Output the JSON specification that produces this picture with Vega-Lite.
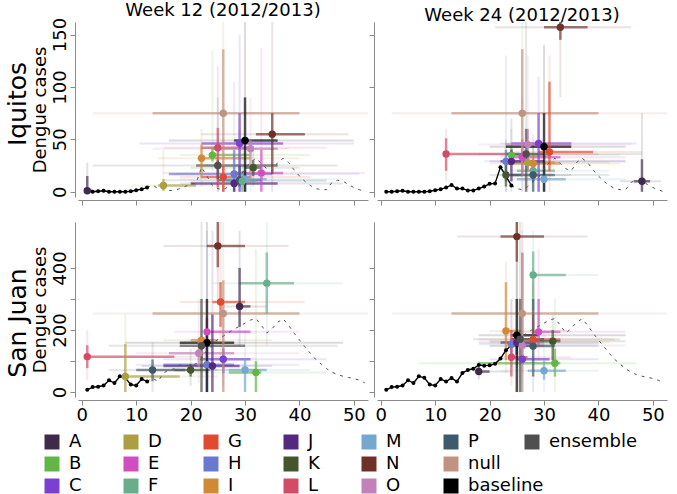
{
"$schema": "https://vega.github.io/schema/vega-lite/v6.json",
"padding": {"left": 6, "top": 2, "right": 2, "bottom": 0},
"background": "white",
"datasets": {
"ts": [
{"city":"Iquitos","week":1,"cases":0},{"city":"Iquitos","week":2,"cases":0},{"city":"Iquitos","week":3,"cases":0.5},{"city":"Iquitos","week":4,"cases":1},{"city":"Iquitos","week":5,"cases":0},{"city":"Iquitos","week":6,"cases":0},{"city":"Iquitos","week":7,"cases":0},{"city":"Iquitos","week":8,"cases":0},{"city":"Iquitos","week":9,"cases":0.5},{"city":"Iquitos","week":10,"cases":1.5},{"city":"Iquitos","week":11,"cases":2.5},{"city":"Iquitos","week":12,"cases":4},{"city":"Iquitos","week":13,"cases":6.5},{"city":"Iquitos","week":14,"cases":3},{"city":"Iquitos","week":15,"cases":3},{"city":"Iquitos","week":16,"cases":1.3},{"city":"Iquitos","week":17,"cases":1.3},{"city":"Iquitos","week":18,"cases":3},{"city":"Iquitos","week":19,"cases":5},{"city":"Iquitos","week":20,"cases":7.6},{"city":"Iquitos","week":21,"cases":8},{"city":"Iquitos","week":22,"cases":23.5},{"city":"Iquitos","week":23,"cases":15},{"city":"Iquitos","week":24,"cases":6},{"city":"Iquitos","week":25,"cases":3},{"city":"Iquitos","week":26,"cases":2},{"city":"Iquitos","week":27,"cases":5},{"city":"Iquitos","week":28,"cases":10},{"city":"Iquitos","week":29,"cases":14},{"city":"Iquitos","week":30,"cases":22},{"city":"Iquitos","week":31,"cases":28},{"city":"Iquitos","week":32,"cases":32},{"city":"Iquitos","week":33,"cases":27},{"city":"Iquitos","week":34,"cases":22},{"city":"Iquitos","week":35,"cases":20},{"city":"Iquitos","week":36,"cases":28},{"city":"Iquitos","week":37,"cases":32},{"city":"Iquitos","week":38,"cases":28},{"city":"Iquitos","week":39,"cases":21},{"city":"Iquitos","week":40,"cases":15},{"city":"Iquitos","week":41,"cases":10},{"city":"Iquitos","week":42,"cases":6},{"city":"Iquitos","week":43,"cases":3},{"city":"Iquitos","week":44,"cases":2},{"city":"Iquitos","week":45,"cases":2},{"city":"Iquitos","week":46,"cases":9},{"city":"Iquitos","week":47,"cases":11},{"city":"Iquitos","week":48,"cases":10},{"city":"Iquitos","week":49,"cases":7},{"city":"Iquitos","week":50,"cases":4},{"city":"Iquitos","week":51,"cases":2},{"city":"Iquitos","week":52,"cases":0},
{"city":"San Juan","week":1,"cases":7},{"city":"San Juan","week":2,"cases":16},{"city":"San Juan","week":3,"cases":17},{"city":"San Juan","week":4,"cases":21},{"city":"San Juan","week":5,"cases":38},{"city":"San Juan","week":6,"cases":29},{"city":"San Juan","week":7,"cases":51},{"city":"San Juan","week":8,"cases":46},{"city":"San Juan","week":9,"cases":24},{"city":"San Juan","week":10,"cases":21},{"city":"San Juan","week":11,"cases":42},{"city":"San Juan","week":12,"cases":34},{"city":"San Juan","week":13,"cases":45},{"city":"San Juan","week":14,"cases":34},{"city":"San Juan","week":15,"cases":61},{"city":"San Juan","week":16,"cases":71},{"city":"San Juan","week":17,"cases":75},{"city":"San Juan","week":18,"cases":87},{"city":"San Juan","week":19,"cases":85},{"city":"San Juan","week":20,"cases":86},{"city":"San Juan","week":21,"cases":91},{"city":"San Juan","week":22,"cases":108},{"city":"San Juan","week":23,"cases":135},{"city":"San Juan","week":24,"cases":150},{"city":"San Juan","week":25,"cases":170},{"city":"San Juan","week":26,"cases":180},{"city":"San Juan","week":27,"cases":192},{"city":"San Juan","week":28,"cases":203},{"city":"San Juan","week":29,"cases":212},{"city":"San Juan","week":30,"cases":222},{"city":"San Juan","week":31,"cases":232},{"city":"San Juan","week":32,"cases":237},{"city":"San Juan","week":33,"cases":215},{"city":"San Juan","week":34,"cases":190},{"city":"San Juan","week":35,"cases":205},{"city":"San Juan","week":36,"cases":225},{"city":"San Juan","week":37,"cases":236},{"city":"San Juan","week":38,"cases":215},{"city":"San Juan","week":39,"cases":190},{"city":"San Juan","week":40,"cases":168},{"city":"San Juan","week":41,"cases":146},{"city":"San Juan","week":42,"cases":125},{"city":"San Juan","week":43,"cases":105},{"city":"San Juan","week":44,"cases":90},{"city":"San Juan","week":45,"cases":75},{"city":"San Juan","week":46,"cases":64},{"city":"San Juan","week":47,"cases":56},{"city":"San Juan","week":48,"cases":51},{"city":"San Juan","week":49,"cases":47},{"city":"San Juan","week":50,"cases":44},{"city":"San Juan","week":51,"cases":38},{"city":"San Juan","week":52,"cases":30}
],
"fc": [
{"city":"Iquitos","fw":12,"model":"A","pw":1,"pv":1,"w1":1,"w2":2,"v1":0,"v2":15,"ow1":1,"ow2":5,"ov1":0,"ov2":28},
{"city":"Iquitos","fw":12,"model":"D","pw":15,"pv":6,"w1":14,"w2":21,"v1":1,"v2":12,"ow1":9,"ow2":30,"ov1":0,"ov2":40},
{"city":"Iquitos","fw":12,"model":"I","pw":22,"pv":32,"w1":22,"w2":31,"v1":13,"v2":45,"ow1":14,"ow2":40,"ov1":5,"ov2":60},
{"city":"Iquitos","fw":12,"model":"B","pw":24,"pv":35,"w1":24,"w2":31,"v1":29,"v2":42,"ow1":18,"ow2":42,"ov1":20,"ov2":135},
{"city":"Iquitos","fw":12,"model":"L","pw":25,"pv":42,"w1":22,"w2":31,"v1":4,"v2":61,"ow1":15,"ow2":45,"ov1":0,"ov2":120},
{"city":"Iquitos","fw":12,"model":"null","pw":26,"pv":75,"w1":13,"w2":40,"v1":0,"v2":136,"ow1":2,"ow2":52.6,"ov1":0,"ov2":170},
{"city":"Iquitos","fw":12,"model":"G","pw":26,"pv":14,"w1":22,"w2":31,"v1":0,"v2":25,"ow1":18,"ow2":42,"ov1":0,"ov2":50},
{"city":"Iquitos","fw":12,"model":"ensemble","pw":25,"pv":25,"w1":21,"w2":36,"v1":12,"v2":30,"ow1":2,"ow2":47,"ov1":0,"ov2":90},
{"city":"Iquitos","fw":12,"model":"H","pw":28,"pv":17,"w1":16,"w2":35,"v1":0,"v2":40,"ow1":17,"ow2":51,"ov1":0,"ov2":105},
{"city":"Iquitos","fw":12,"model":"J","pw":28,"pv":8,"w1":20,"w2":36,"v1":0,"v2":12,"ow1":18,"ow2":48,"ov1":0,"ov2":35},
{"city":"Iquitos","fw":12,"model":"C","pw":29,"pv":46,"w1":22,"w2":37,"v1":0,"v2":75,"ow1":10.6,"ow2":50,"ov1":0,"ov2":150},
{"city":"Iquitos","fw":12,"model":"P","pw":29,"pv":11,"w1":25,"w2":33,"v1":5,"v2":25,"ow1":15,"ow2":45,"ov1":0,"ov2":60},
{"city":"Iquitos","fw":12,"model":"M","pw":30,"pv":12,"w1":26,"w2":34,"v1":0,"v2":20,"ow1":18,"ow2":48,"ov1":0,"ov2":50},
{"city":"Iquitos","fw":12,"model":"F","pw":29.5,"pv":10,"w1":27,"w2":32,"v1":0,"v2":20,"ow1":20,"ow2":45,"ov1":0,"ov2":45},
{"city":"Iquitos","fw":12,"model":"baseline","pw":30,"pv":49,"w1":28,"w2":36,"v1":0,"v2":90,"ow1":16,"ow2":50,"ov1":0,"ov2":170},
{"city":"Iquitos","fw":12,"model":"O","pw":31,"pv":41,"w1":24,"w2":36,"v1":10,"v2":50,"ow1":13,"ow2":38,"ov1":0,"ov2":90},
{"city":"Iquitos","fw":12,"model":"K","pw":31.5,"pv":23,"w1":30,"w2":33,"v1":15,"v2":30,"ow1":20,"ow2":40,"ov1":5,"ov2":40},
{"city":"Iquitos","fw":12,"model":"E","pw":33,"pv":18,"w1":28,"w2":37,"v1":0,"v2":40,"ow1":15,"ow2":52,"ov1":0,"ov2":137},
{"city":"Iquitos","fw":12,"model":"N","pw":35,"pv":55,"w1":32,"w2":41,"v1":17,"v2":75,"ow1":22,"ow2":49,"ov1":0,"ov2":170},
{"city":"Iquitos","fw":24,"model":"A","pw":48,"pv":10,"w1":46.5,"w2":49.5,"v1":0,"v2":31,"ow1":44,"ow2":51.5,"ov1":0,"ov2":75},
{"city":"Iquitos","fw":24,"model":"B","pw":24,"pv":35,"w1":24,"w2":31,"v1":29,"v2":42,"ow1":22,"ow2":44,"ov1":20,"ov2":60},
{"city":"Iquitos","fw":24,"model":"C","pw":29,"pv":46,"w1":24,"w2":35,"v1":0,"v2":75,"ow1":22,"ow2":47,"ov1":0,"ov2":110},
{"city":"Iquitos","fw":24,"model":"D","pw":27,"pv":28,"w1":24,"w2":32,"v1":20,"v2":35,"ow1":22,"ow2":42,"ov1":10,"ov2":60},
{"city":"Iquitos","fw":24,"model":"E","pw":26,"pv":33,"w1":24,"w2":33,"v1":15,"v2":50,"ow1":22,"ow2":45,"ov1":0,"ov2":90},
{"city":"Iquitos","fw":24,"model":"F","pw":28,"pv":20,"w1":25,"w2":32,"v1":10,"v2":30,"ow1":22,"ow2":42,"ov1":0,"ov2":50},
{"city":"Iquitos","fw":24,"model":"G","pw":31,"pv":38,"w1":29,"w2":39,"v1":20,"v2":105,"ow1":24,"ow2":48,"ov1":0,"ov2":130},
{"city":"Iquitos","fw":24,"model":"H","pw":23,"pv":29,"w1":23,"w2":28,"v1":10,"v2":40,"ow1":19,"ow2":45,"ov1":0,"ov2":130},
{"city":"Iquitos","fw":24,"model":"I","pw":28,"pv":27,"w1":23,"w2":33,"v1":20,"v2":35,"ow1":20,"ow2":44,"ov1":10,"ov2":55},
{"city":"Iquitos","fw":24,"model":"J","pw":24,"pv":29,"w1":22,"w2":30,"v1":10,"v2":40,"ow1":20,"ow2":45,"ov1":0,"ov2":70},
{"city":"Iquitos","fw":24,"model":"K","pw":23,"pv":16,"w1":23,"w2":26,"v1":5,"v2":30,"ow1":20,"ow2":35,"ov1":0,"ov2":50},
{"city":"Iquitos","fw":24,"model":"L","pw":12,"pv":36,"w1":12,"w2":24,"v1":20,"v2":51,"ow1":12,"ow2":40,"ov1":10,"ov2":60},
{"city":"Iquitos","fw":24,"model":"M","pw":30,"pv":12,"w1":25,"w2":34,"v1":0,"v2":25,"ow1":22,"ow2":45,"ov1":0,"ov2":45},
{"city":"Iquitos","fw":24,"model":"N","pw":33,"pv":157,"w1":30,"w2":38,"v1":145,"v2":165,"ow1":21,"ow2":46,"ov1":90,"ov2":170},
{"city":"Iquitos","fw":24,"model":"O","pw":27,"pv":45,"w1":23,"w2":35,"v1":20,"v2":60,"ow1":18,"ow2":46,"ov1":0,"ov2":130},
{"city":"Iquitos","fw":24,"model":"P","pw":28,"pv":16,"w1":24,"w2":32,"v1":0,"v2":30,"ow1":22,"ow2":42,"ov1":0,"ov2":45},
{"city":"Iquitos","fw":24,"model":"null","pw":26,"pv":75,"w1":13,"w2":40,"v1":20,"v2":136,"ow1":2,"ow2":52.6,"ov1":0,"ov2":170},
{"city":"Iquitos","fw":24,"model":"baseline","pw":30,"pv":43,"w1":23,"w2":35,"v1":0,"v2":75,"ow1":20,"ow2":45,"ov1":0,"ov2":140},
{"city":"Iquitos","fw":24,"model":"ensemble","pw":26.7,"pv":36,"w1":23,"w2":30,"v1":0,"v2":60,"ow1":18,"ow2":48,"ov1":0,"ov2":170},
{"city":"San Juan","fw":12,"model":"A","pw":29,"pv":276,"w1":29,"w2":31,"v1":210,"v2":400,"ow1":26,"ow2":34,"ov1":150,"ov2":520},
{"city":"San Juan","fw":12,"model":"B","pw":32,"pv":63,"w1":27,"w2":33,"v1":0,"v2":100,"ow1":20,"ow2":45,"ov1":0,"ov2":460},
{"city":"San Juan","fw":12,"model":"C","pw":26,"pv":106,"w1":22,"w2":31,"v1":60,"v2":140,"ow1":15,"ow2":45,"ov1":20,"ov2":300},
{"city":"San Juan","fw":12,"model":"D","pw":8,"pv":50,"w1":8,"w2":18,"v1":0,"v2":155,"ow1":6,"ow2":25,"ov1":0,"ov2":250},
{"city":"San Juan","fw":12,"model":"E","pw":23,"pv":194,"w1":23,"w2":31,"v1":140,"v2":240,"ow1":17,"ow2":40,"ov1":60,"ov2":300},
{"city":"San Juan","fw":12,"model":"F","pw":34,"pv":351,"w1":29,"w2":39,"v1":253,"v2":450,"ow1":24,"ow2":48,"ov1":150,"ov2":550},
{"city":"San Juan","fw":12,"model":"G","pw":25.5,"pv":290,"w1":24,"w2":30,"v1":210,"v2":354,"ow1":18,"ow2":41,"ov1":100,"ov2":550},
{"city":"San Juan","fw":12,"model":"H","pw":23,"pv":88,"w1":15,"w2":28,"v1":0,"v2":200,"ow1":10,"ow2":40,"ov1":0,"ov2":520},
{"city":"San Juan","fw":12,"model":"I","pw":22,"pv":167,"w1":20,"w2":25,"v1":100,"v2":180,"ow1":15,"ow2":35,"ov1":60,"ov2":300},
{"city":"San Juan","fw":12,"model":"J","pw":24,"pv":84,"w1":15,"w2":29,"v1":0,"v2":250,"ow1":11,"ow2":35,"ov1":0,"ov2":520},
{"city":"San Juan","fw":12,"model":"K","pw":20,"pv":71,"w1":17,"w2":23.5,"v1":50,"v2":90,"ow1":12,"ow2":33,"ov1":20,"ov2":140},
{"city":"San Juan","fw":12,"model":"L","pw":1,"pv":114,"w1":1,"w2":17,"v1":77,"v2":151,"ow1":1,"ow2":26,"ov1":39,"ov2":200},
{"city":"San Juan","fw":12,"model":"M","pw":30,"pv":71,"w1":27,"w2":34,"v1":0,"v2":110,"ow1":20,"ow2":42,"ov1":0,"ov2":200},
{"city":"San Juan","fw":12,"model":"N","pw":25,"pv":471,"w1":23,"w2":30,"v1":402,"v2":550,"ow1":15,"ow2":38,"ov1":300,"ov2":550},
{"city":"San Juan","fw":12,"model":"O","pw":21.5,"pv":125,"w1":16,"w2":28,"v1":80,"v2":170,"ow1":10,"ow2":40,"ov1":30,"ov2":300},
{"city":"San Juan","fw":12,"model":"P","pw":13,"pv":71,"w1":10,"w2":19,"v1":35,"v2":105,"ow1":5,"ow2":25,"ov1":0,"ov2":160},
{"city":"San Juan","fw":12,"model":"null","pw":26,"pv":253,"w1":13,"w2":40,"v1":0,"v2":360,"ow1":2,"ow2":52.6,"ov1":0,"ov2":550},
{"city":"San Juan","fw":12,"model":"baseline","pw":23,"pv":159,"w1":18,"w2":28,"v1":0,"v2":300,"ow1":8,"ow2":48,"ov1":0,"ov2":550},
{"city":"San Juan","fw":12,"model":"ensemble","pw":22,"pv":149,"w1":18,"w2":30,"v1":0,"v2":300,"ow1":5,"ow2":47,"ov1":0,"ov2":550},
{"city":"San Juan","fw":24,"model":"A","pw":18,"pv":66,"w1":18,"w2":20,"v1":55,"v2":80,"ow1":17,"ow2":24,"ov1":40,"ov2":100},
{"city":"San Juan","fw":24,"model":"B","pw":32,"pv":93,"w1":18,"w2":33,"v1":50,"v2":140,"ow1":7,"ow2":47,"ov1":0,"ov2":300},
{"city":"San Juan","fw":24,"model":"C","pw":26,"pv":106,"w1":25,"w2":31,"v1":90,"v2":120,"ow1":20,"ow2":40,"ov1":60,"ov2":200},
{"city":"San Juan","fw":24,"model":"D","pw":25,"pv":160,"w1":24,"w2":30,"v1":140,"v2":200,"ow1":20,"ow2":42,"ov1":100,"ov2":300},
{"city":"San Juan","fw":24,"model":"E","pw":29,"pv":194,"w1":28,"w2":33,"v1":150,"v2":300,"ow1":22,"ow2":45,"ov1":100,"ov2":460},
{"city":"San Juan","fw":24,"model":"F","pw":28,"pv":377,"w1":28,"w2":34,"v1":263,"v2":453,"ow1":28,"ow2":40,"ov1":200,"ov2":520},
{"city":"San Juan","fw":24,"model":"G","pw":28,"pv":169,"w1":24,"w2":33,"v1":150,"v2":250,"ow1":18,"ow2":43,"ov1":100,"ov2":350},
{"city":"San Juan","fw":24,"model":"H","pw":24,"pv":154,"w1":24,"w2":28,"v1":120,"v2":170,"ow1":18,"ow2":40,"ov1":80,"ov2":300},
{"city":"San Juan","fw":24,"model":"I","pw":23,"pv":197,"w1":23,"w2":26,"v1":103,"v2":354,"ow1":20,"ow2":35,"ov1":60,"ov2":420},
{"city":"San Juan","fw":24,"model":"J","pw":25,"pv":160,"w1":22,"w2":28,"v1":120,"v2":180,"ow1":18,"ow2":40,"ov1":80,"ov2":300},
{"city":"San Juan","fw":24,"model":"K","pw":31.6,"pv":164,"w1":28,"w2":33,"v1":103,"v2":200,"ow1":20,"ow2":45,"ov1":80,"ov2":250},
{"city":"San Juan","fw":24,"model":"L","pw":24,"pv":112,"w1":24,"w2":27,"v1":50,"v2":200,"ow1":22,"ow2":35,"ov1":20,"ov2":300},
{"city":"San Juan","fw":24,"model":"M","pw":30,"pv":69,"w1":27,"w2":34,"v1":40,"v2":100,"ow1":22,"ow2":40,"ov1":0,"ov2":200},
{"city":"San Juan","fw":24,"model":"N","pw":25,"pv":501,"w1":22,"w2":30,"v1":420,"v2":550,"ow1":14,"ow2":38,"ov1":300,"ov2":550},
{"city":"San Juan","fw":24,"model":"O","pw":26,"pv":150,"w1":24,"w2":30,"v1":100,"v2":448,"ow1":20,"ow2":45,"ov1":50,"ov2":520},
{"city":"San Juan","fw":24,"model":"P","pw":28,"pv":148,"w1":24,"w2":32,"v1":50,"v2":300,"ow1":20,"ow2":40,"ov1":0,"ov2":400},
{"city":"San Juan","fw":24,"model":"null","pw":26,"pv":253,"w1":13,"w2":40,"v1":0,"v2":450,"ow1":2,"ow2":52.6,"ov1":0,"ov2":550},
{"city":"San Juan","fw":24,"model":"baseline","pw":25,"pv":183,"w1":24,"w2":29,"v1":0,"v2":300,"ow1":18,"ow2":45,"ov1":0,"ov2":550},
{"city":"San Juan","fw":24,"model":"ensemble","pw":25.6,"pv":170,"w1":24,"w2":30,"v1":0,"v2":300,"ow1":17,"ow2":44,"ov1":0,"ov2":550}
]
},
"vconcat": [
{
"title": {"text": "Iquitos", "orient": "left", "anchor": "middle", "fontSize": 25, "offset": 0},
"spacing": 0,
"hconcat": [
{
"title": {"text": "Week 12 (2012/2013)", "offset": -3},
"width": 290, "height": 175,
"layer": [
{"data": {"name": "fc"}, "transform": [{"filter": "datum.city == 'Iquitos' && datum.fw == 12"}],
 "mark": {"type": "rule", "strokeWidth": 2, "opacity": 0.14, "clip": true},
 "encoding": {"x": {"field": "ow1", "type": "quantitative", "scale": {"domain": [-0.7, 52.6], "nice": false, "zero": false}, "axis": {"values": [0,10,20,30,40,50], "labels": false, "title": null}}, "x2": {"field": "ow2"},
  "y": {"field": "pv", "type": "quantitative", "scale": {"domain": [-5, 162], "nice": false, "zero": false}, "axis": {"values": [0,50,100,150], "title": "Dengue cases"}},
  "stroke": {"field": "model", "type": "nominal", "scale": {"domain": ["A","B","C","D","E","F","G","H","I","J","K","L","M","N","O","P","null","baseline","ensemble"], "range": ["#3f2a4a","#62b646","#7a40d0","#aaa043","#d04ec0","#68ae8c","#de4b31","#6b78d0","#d08936","#54287f","#455530","#d24c68","#76a7cf","#6e3128","#c082b9","#3f5a6a","#c09482","#000000","#4f4f4f"]}, "legend": null}}},
{"data": {"name": "fc"}, "transform": [{"filter": "datum.city == 'Iquitos' && datum.fw == 12"}],
 "mark": {"type": "rule", "strokeWidth": 2, "opacity": 0.14, "clip": true},
 "encoding": {"x": {"field": "pw", "type": "quantitative", "scale": {"domain": [-0.7, 52.6], "nice": false, "zero": false}, "axis": {"values": [0,10,20,30,40,50], "labels": false, "title": null}},
  "y": {"field": "ov1", "type": "quantitative", "scale": {"domain": [-5, 162], "nice": false, "zero": false}, "axis": {"values": [0,50,100,150], "title": "Dengue cases"}}, "y2": {"field": "ov2"},
  "stroke": {"field": "model", "type": "nominal", "legend": null}}},
{"data": {"name": "fc"}, "transform": [{"filter": "datum.city == 'Iquitos' && datum.fw == 12"}],
 "mark": {"type": "rule", "strokeWidth": 2.5, "opacity": 0.65, "clip": true},
 "encoding": {"x": {"field": "w1", "type": "quantitative", "scale": {"domain": [-0.7, 52.6], "nice": false, "zero": false}, "axis": {"values": [0,10,20,30,40,50], "labels": false, "title": null}}, "x2": {"field": "w2"},
  "y": {"field": "pv", "type": "quantitative", "scale": {"domain": [-5, 162], "nice": false, "zero": false}, "axis": {"values": [0,50,100,150], "title": "Dengue cases"}},
  "stroke": {"field": "model", "type": "nominal", "legend": null}}},
{"data": {"name": "fc"}, "transform": [{"filter": "datum.city == 'Iquitos' && datum.fw == 12"}],
 "mark": {"type": "rule", "strokeWidth": 2.5, "opacity": 0.65, "clip": true},
 "encoding": {"x": {"field": "pw", "type": "quantitative", "scale": {"domain": [-0.7, 52.6], "nice": false, "zero": false}, "axis": {"values": [0,10,20,30,40,50], "labels": false, "title": null}},
  "y": {"field": "v1", "type": "quantitative", "scale": {"domain": [-5, 162], "nice": false, "zero": false}, "axis": {"values": [0,50,100,150], "title": "Dengue cases"}}, "y2": {"field": "v2"},
  "stroke": {"field": "model", "type": "nominal", "legend": null}}},
{"data": {"name": "ts"}, "transform": [{"filter": "datum.city == 'Iquitos' && datum.week >= 12"}],
 "mark": {"type": "line", "color": "#555555", "strokeWidth": 1, "strokeDash": [3, 5], "clip": true},
 "encoding": {"x": {"field": "week", "type": "quantitative", "scale": {"domain": [-0.7, 52.6], "nice": false, "zero": false}, "axis": {"values": [0,10,20,30,40,50], "labels": false, "title": null}},
  "y": {"field": "cases", "type": "quantitative", "scale": {"domain": [-5, 162], "nice": false, "zero": false}, "axis": {"values": [0,50,100,150], "title": "Dengue cases"}}}},
{"data": {"name": "ts"}, "transform": [{"filter": "datum.city == 'Iquitos' && datum.week <= 12"}],
 "mark": {"type": "line", "color": "black", "strokeWidth": 1.4, "point": {"filled": true, "size": 16, "color": "black"}, "clip": true},
 "encoding": {"x": {"field": "week", "type": "quantitative", "scale": {"domain": [-0.7, 52.6], "nice": false, "zero": false}, "axis": {"values": [0,10,20,30,40,50], "labels": false, "title": null}},
  "y": {"field": "cases", "type": "quantitative", "scale": {"domain": [-5, 162], "nice": false, "zero": false}, "axis": {"values": [0,50,100,150], "title": "Dengue cases"}}}},
{"data": {"name": "fc"}, "transform": [{"filter": "datum.city == 'Iquitos' && datum.fw == 12 && datum.model != 'ensemble'"}],
 "mark": {"type": "point", "filled": true, "size": 55, "opacity": 1, "clip": true},
 "encoding": {"x": {"field": "pw", "type": "quantitative", "scale": {"domain": [-0.7, 52.6], "nice": false, "zero": false}, "axis": {"values": [0,10,20,30,40,50], "labels": false, "title": null}},
  "y": {"field": "pv", "type": "quantitative", "scale": {"domain": [-5, 162], "nice": false, "zero": false}, "axis": {"values": [0,50,100,150], "title": "Dengue cases"}},
  "color": {"field": "model", "type": "nominal", "scale": {"domain": ["A","B","C","D","E","F","G","H","I","J","K","L","M","N","O","P","null","baseline"], "range": ["#3f2a4a","#62b646","#7a40d0","#aaa043","#d04ec0","#68ae8c","#de4b31","#6b78d0","#d08936","#54287f","#455530","#d24c68","#76a7cf","#6e3128","#c082b9","#3f5a6a","#c09482","#000000"]},
   "legend": {"orient": "none", "legendX": -35, "legendY": 411, "direction": "vertical", "columns": 6, "title": null, "symbolType": "square", "symbolSize": 225, "symbolStrokeWidth": 0, "symbolOpacity": 1, "labelFontSize": 18, "labelOffset": 8, "columnPadding": 40, "rowPadding": 4, "gridAlign": "each"}}}},
{"data": {"name": "fc"}, "transform": [{"filter": "datum.city == 'Iquitos' && datum.fw == 12 && datum.model == 'ensemble'"}],
 "mark": {"type": "point", "filled": true, "size": 55, "opacity": 1, "clip": true},
 "encoding": {"x": {"field": "pw", "type": "quantitative", "scale": {"domain": [-0.7, 52.6], "nice": false, "zero": false}, "axis": {"values": [0,10,20,30,40,50], "labels": false, "title": null}},
  "y": {"field": "pv", "type": "quantitative", "scale": {"domain": [-5, 162], "nice": false, "zero": false}, "axis": {"values": [0,50,100,150], "title": "Dengue cases"}},
  "fill": {"field": "model", "type": "nominal", "scale": {"domain": ["ensemble"], "range": ["#4f4f4f"]},
   "legend": {"orient": "none", "legendX": 445, "legendY": 411, "title": null, "symbolType": "square", "symbolSize": 225, "symbolStrokeWidth": 0, "symbolOpacity": 1, "labelFontSize": 18, "labelOffset": 8}}}}
]
},
{
"title": {"text": "Week 24 (2012/2013)", "offset": -3},
"width": 290, "height": 175,
"layer": [
{"data": {"name": "fc"}, "transform": [{"filter": "datum.city == 'Iquitos' && datum.fw == 24"}],
 "mark": {"type": "rule", "strokeWidth": 2, "opacity": 0.14, "clip": true},
 "encoding": {"x": {"field": "ow1", "type": "quantitative", "scale": {"domain": [-0.7, 52.6], "nice": false, "zero": false}, "axis": {"values": [0,10,20,30,40,50], "labels": false, "title": null}}, "x2": {"field": "ow2"},
  "y": {"field": "pv", "type": "quantitative", "scale": {"domain": [-5, 162], "nice": false, "zero": false}, "axis": {"values": [0,50,100,150], "labels": false, "title": null}},
  "stroke": {"field": "model", "type": "nominal", "legend": null}}},
{"data": {"name": "fc"}, "transform": [{"filter": "datum.city == 'Iquitos' && datum.fw == 24"}],
 "mark": {"type": "rule", "strokeWidth": 2, "opacity": 0.14, "clip": true},
 "encoding": {"x": {"field": "pw", "type": "quantitative", "scale": {"domain": [-0.7, 52.6], "nice": false, "zero": false}, "axis": {"values": [0,10,20,30,40,50], "labels": false, "title": null}},
  "y": {"field": "ov1", "type": "quantitative", "scale": {"domain": [-5, 162], "nice": false, "zero": false}, "axis": {"values": [0,50,100,150], "labels": false, "title": null}}, "y2": {"field": "ov2"},
  "stroke": {"field": "model", "type": "nominal", "legend": null}}},
{"data": {"name": "fc"}, "transform": [{"filter": "datum.city == 'Iquitos' && datum.fw == 24"}],
 "mark": {"type": "rule", "strokeWidth": 2.5, "opacity": 0.65, "clip": true},
 "encoding": {"x": {"field": "w1", "type": "quantitative", "scale": {"domain": [-0.7, 52.6], "nice": false, "zero": false}, "axis": {"values": [0,10,20,30,40,50], "labels": false, "title": null}}, "x2": {"field": "w2"},
  "y": {"field": "pv", "type": "quantitative", "scale": {"domain": [-5, 162], "nice": false, "zero": false}, "axis": {"values": [0,50,100,150], "labels": false, "title": null}},
  "stroke": {"field": "model", "type": "nominal", "legend": null}}},
{"data": {"name": "fc"}, "transform": [{"filter": "datum.city == 'Iquitos' && datum.fw == 24"}],
 "mark": {"type": "rule", "strokeWidth": 2.5, "opacity": 0.65, "clip": true},
 "encoding": {"x": {"field": "pw", "type": "quantitative", "scale": {"domain": [-0.7, 52.6], "nice": false, "zero": false}, "axis": {"values": [0,10,20,30,40,50], "labels": false, "title": null}},
  "y": {"field": "v1", "type": "quantitative", "scale": {"domain": [-5, 162], "nice": false, "zero": false}, "axis": {"values": [0,50,100,150], "labels": false, "title": null}}, "y2": {"field": "v2"},
  "stroke": {"field": "model", "type": "nominal", "legend": null}}},
{"data": {"name": "ts"}, "transform": [{"filter": "datum.city == 'Iquitos' && datum.week >= 24"}],
 "mark": {"type": "line", "color": "#555555", "strokeWidth": 1, "strokeDash": [3, 5], "clip": true},
 "encoding": {"x": {"field": "week", "type": "quantitative", "scale": {"domain": [-0.7, 52.6], "nice": false, "zero": false}, "axis": {"values": [0,10,20,30,40,50], "labels": false, "title": null}},
  "y": {"field": "cases", "type": "quantitative", "scale": {"domain": [-5, 162], "nice": false, "zero": false}, "axis": {"values": [0,50,100,150], "labels": false, "title": null}}}},
{"data": {"name": "ts"}, "transform": [{"filter": "datum.city == 'Iquitos' && datum.week <= 24"}],
 "mark": {"type": "line", "color": "black", "strokeWidth": 1.4, "point": {"filled": true, "size": 16, "color": "black"}, "clip": true},
 "encoding": {"x": {"field": "week", "type": "quantitative", "scale": {"domain": [-0.7, 52.6], "nice": false, "zero": false}, "axis": {"values": [0,10,20,30,40,50], "labels": false, "title": null}},
  "y": {"field": "cases", "type": "quantitative", "scale": {"domain": [-5, 162], "nice": false, "zero": false}, "axis": {"values": [0,50,100,150], "labels": false, "title": null}}}},
{"data": {"name": "fc"}, "transform": [{"filter": "datum.city == 'Iquitos' && datum.fw == 24 && datum.model != 'ensemble'"}],
 "mark": {"type": "point", "filled": true, "size": 55, "opacity": 1, "clip": true},
 "encoding": {"x": {"field": "pw", "type": "quantitative", "scale": {"domain": [-0.7, 52.6], "nice": false, "zero": false}, "axis": {"values": [0,10,20,30,40,50], "labels": false, "title": null}},
  "y": {"field": "pv", "type": "quantitative", "scale": {"domain": [-5, 162], "nice": false, "zero": false}, "axis": {"values": [0,50,100,150], "labels": false, "title": null}},
  "color": {"field": "model", "type": "nominal"}}},
{"data": {"name": "fc"}, "transform": [{"filter": "datum.city == 'Iquitos' && datum.fw == 24 && datum.model == 'ensemble'"}],
 "mark": {"type": "point", "filled": true, "size": 55, "opacity": 1, "clip": true},
 "encoding": {"x": {"field": "pw", "type": "quantitative", "scale": {"domain": [-0.7, 52.6], "nice": false, "zero": false}, "axis": {"values": [0,10,20,30,40,50], "labels": false, "title": null}},
  "y": {"field": "pv", "type": "quantitative", "scale": {"domain": [-5, 162], "nice": false, "zero": false}, "axis": {"values": [0,50,100,150], "labels": false, "title": null}},
  "fill": {"field": "model", "type": "nominal"}}}
]
}
]
},
{
"title": {"text": "San Juan", "orient": "left", "anchor": "middle", "fontSize": 25, "offset": 0},
"spacing": 0,
"hconcat": [
{
"width": 290, "height": 175,
"layer": [
{"data": {"name": "fc"}, "transform": [{"filter": "datum.city == 'San Juan' && datum.fw == 12"}],
 "mark": {"type": "rule", "strokeWidth": 2, "opacity": 0.14, "clip": true},
 "encoding": {"x": {"field": "ow1", "type": "quantitative", "scale": {"domain": [-0.7, 52.6], "nice": false, "zero": false}, "axis": {"values": [0,10,20,30,40,50], "title": null}}, "x2": {"field": "ow2"},
  "y": {"field": "pv", "type": "quantitative", "scale": {"domain": [-16, 548], "nice": false, "zero": false}, "axis": {"values": [0,100,200,300,400], "labelExpr": "datum.value % 200 == 0 ? datum.label : ''", "title": "Dengue cases"}},
  "stroke": {"field": "model", "type": "nominal", "legend": null}}},
{"data": {"name": "fc"}, "transform": [{"filter": "datum.city == 'San Juan' && datum.fw == 12"}],
 "mark": {"type": "rule", "strokeWidth": 2, "opacity": 0.14, "clip": true},
 "encoding": {"x": {"field": "pw", "type": "quantitative", "scale": {"domain": [-0.7, 52.6], "nice": false, "zero": false}, "axis": {"values": [0,10,20,30,40,50], "title": null}},
  "y": {"field": "ov1", "type": "quantitative", "scale": {"domain": [-16, 548], "nice": false, "zero": false}, "axis": {"values": [0,100,200,300,400], "labelExpr": "datum.value % 200 == 0 ? datum.label : ''", "title": "Dengue cases"}}, "y2": {"field": "ov2"},
  "stroke": {"field": "model", "type": "nominal", "legend": null}}},
{"data": {"name": "fc"}, "transform": [{"filter": "datum.city == 'San Juan' && datum.fw == 12"}],
 "mark": {"type": "rule", "strokeWidth": 2.5, "opacity": 0.65, "clip": true},
 "encoding": {"x": {"field": "w1", "type": "quantitative", "scale": {"domain": [-0.7, 52.6], "nice": false, "zero": false}, "axis": {"values": [0,10,20,30,40,50], "title": null}}, "x2": {"field": "w2"},
  "y": {"field": "pv", "type": "quantitative", "scale": {"domain": [-16, 548], "nice": false, "zero": false}, "axis": {"values": [0,100,200,300,400], "labelExpr": "datum.value % 200 == 0 ? datum.label : ''", "title": "Dengue cases"}},
  "stroke": {"field": "model", "type": "nominal", "legend": null}}},
{"data": {"name": "fc"}, "transform": [{"filter": "datum.city == 'San Juan' && datum.fw == 12"}],
 "mark": {"type": "rule", "strokeWidth": 2.5, "opacity": 0.65, "clip": true},
 "encoding": {"x": {"field": "pw", "type": "quantitative", "scale": {"domain": [-0.7, 52.6], "nice": false, "zero": false}, "axis": {"values": [0,10,20,30,40,50], "title": null}},
  "y": {"field": "v1", "type": "quantitative", "scale": {"domain": [-16, 548], "nice": false, "zero": false}, "axis": {"values": [0,100,200,300,400], "labelExpr": "datum.value % 200 == 0 ? datum.label : ''", "title": "Dengue cases"}}, "y2": {"field": "v2"},
  "stroke": {"field": "model", "type": "nominal", "legend": null}}},
{"data": {"name": "ts"}, "transform": [{"filter": "datum.city == 'San Juan' && datum.week >= 12"}],
 "mark": {"type": "line", "color": "#555555", "strokeWidth": 1, "strokeDash": [3, 5], "clip": true},
 "encoding": {"x": {"field": "week", "type": "quantitative", "scale": {"domain": [-0.7, 52.6], "nice": false, "zero": false}, "axis": {"values": [0,10,20,30,40,50], "title": null}},
  "y": {"field": "cases", "type": "quantitative", "scale": {"domain": [-16, 548], "nice": false, "zero": false}, "axis": {"values": [0,100,200,300,400], "labelExpr": "datum.value % 200 == 0 ? datum.label : ''", "title": "Dengue cases"}}}},
{"data": {"name": "ts"}, "transform": [{"filter": "datum.city == 'San Juan' && datum.week <= 12"}],
 "mark": {"type": "line", "color": "black", "strokeWidth": 1.4, "point": {"filled": true, "size": 16, "color": "black"}, "clip": true},
 "encoding": {"x": {"field": "week", "type": "quantitative", "scale": {"domain": [-0.7, 52.6], "nice": false, "zero": false}, "axis": {"values": [0,10,20,30,40,50], "title": null}},
  "y": {"field": "cases", "type": "quantitative", "scale": {"domain": [-16, 548], "nice": false, "zero": false}, "axis": {"values": [0,100,200,300,400], "labelExpr": "datum.value % 200 == 0 ? datum.label : ''", "title": "Dengue cases"}}}},
{"data": {"name": "fc"}, "transform": [{"filter": "datum.city == 'San Juan' && datum.fw == 12 && datum.model != 'ensemble'"}],
 "mark": {"type": "point", "filled": true, "size": 55, "opacity": 1, "clip": true},
 "encoding": {"x": {"field": "pw", "type": "quantitative", "scale": {"domain": [-0.7, 52.6], "nice": false, "zero": false}, "axis": {"values": [0,10,20,30,40,50], "title": null}},
  "y": {"field": "pv", "type": "quantitative", "scale": {"domain": [-16, 548], "nice": false, "zero": false}, "axis": {"values": [0,100,200,300,400], "labelExpr": "datum.value % 200 == 0 ? datum.label : ''", "title": "Dengue cases"}},
  "color": {"field": "model", "type": "nominal"}}},
{"data": {"name": "fc"}, "transform": [{"filter": "datum.city == 'San Juan' && datum.fw == 12 && datum.model == 'ensemble'"}],
 "mark": {"type": "point", "filled": true, "size": 55, "opacity": 1, "clip": true},
 "encoding": {"x": {"field": "pw", "type": "quantitative", "scale": {"domain": [-0.7, 52.6], "nice": false, "zero": false}, "axis": {"values": [0,10,20,30,40,50], "title": null}},
  "y": {"field": "pv", "type": "quantitative", "scale": {"domain": [-16, 548], "nice": false, "zero": false}, "axis": {"values": [0,100,200,300,400], "labelExpr": "datum.value % 200 == 0 ? datum.label : ''", "title": "Dengue cases"}},
  "fill": {"field": "model", "type": "nominal"}}}
]
},
{
"width": 290, "height": 175,
"layer": [
{"data": {"name": "fc"}, "transform": [{"filter": "datum.city == 'San Juan' && datum.fw == 24"}],
 "mark": {"type": "rule", "strokeWidth": 2, "opacity": 0.14, "clip": true},
 "encoding": {"x": {"field": "ow1", "type": "quantitative", "scale": {"domain": [-0.7, 52.6], "nice": false, "zero": false}, "axis": {"values": [0,10,20,30,40,50], "title": null}}, "x2": {"field": "ow2"},
  "y": {"field": "pv", "type": "quantitative", "scale": {"domain": [-16, 548], "nice": false, "zero": false}, "axis": {"values": [0,100,200,300,400], "labels": false, "title": null}},
  "stroke": {"field": "model", "type": "nominal", "legend": null}}},
{"data": {"name": "fc"}, "transform": [{"filter": "datum.city == 'San Juan' && datum.fw == 24"}],
 "mark": {"type": "rule", "strokeWidth": 2, "opacity": 0.14, "clip": true},
 "encoding": {"x": {"field": "pw", "type": "quantitative", "scale": {"domain": [-0.7, 52.6], "nice": false, "zero": false}, "axis": {"values": [0,10,20,30,40,50], "title": null}},
  "y": {"field": "ov1", "type": "quantitative", "scale": {"domain": [-16, 548], "nice": false, "zero": false}, "axis": {"values": [0,100,200,300,400], "labels": false, "title": null}}, "y2": {"field": "ov2"},
  "stroke": {"field": "model", "type": "nominal", "legend": null}}},
{"data": {"name": "fc"}, "transform": [{"filter": "datum.city == 'San Juan' && datum.fw == 24"}],
 "mark": {"type": "rule", "strokeWidth": 2.5, "opacity": 0.65, "clip": true},
 "encoding": {"x": {"field": "w1", "type": "quantitative", "scale": {"domain": [-0.7, 52.6], "nice": false, "zero": false}, "axis": {"values": [0,10,20,30,40,50], "title": null}}, "x2": {"field": "w2"},
  "y": {"field": "pv", "type": "quantitative", "scale": {"domain": [-16, 548], "nice": false, "zero": false}, "axis": {"values": [0,100,200,300,400], "labels": false, "title": null}},
  "stroke": {"field": "model", "type": "nominal", "legend": null}}},
{"data": {"name": "fc"}, "transform": [{"filter": "datum.city == 'San Juan' && datum.fw == 24"}],
 "mark": {"type": "rule", "strokeWidth": 2.5, "opacity": 0.65, "clip": true},
 "encoding": {"x": {"field": "pw", "type": "quantitative", "scale": {"domain": [-0.7, 52.6], "nice": false, "zero": false}, "axis": {"values": [0,10,20,30,40,50], "title": null}},
  "y": {"field": "v1", "type": "quantitative", "scale": {"domain": [-16, 548], "nice": false, "zero": false}, "axis": {"values": [0,100,200,300,400], "labels": false, "title": null}}, "y2": {"field": "v2"},
  "stroke": {"field": "model", "type": "nominal", "legend": null}}},
{"data": {"name": "ts"}, "transform": [{"filter": "datum.city == 'San Juan' && datum.week >= 24"}],
 "mark": {"type": "line", "color": "#555555", "strokeWidth": 1, "strokeDash": [3, 5], "clip": true},
 "encoding": {"x": {"field": "week", "type": "quantitative", "scale": {"domain": [-0.7, 52.6], "nice": false, "zero": false}, "axis": {"values": [0,10,20,30,40,50], "title": null}},
  "y": {"field": "cases", "type": "quantitative", "scale": {"domain": [-16, 548], "nice": false, "zero": false}, "axis": {"values": [0,100,200,300,400], "labels": false, "title": null}}}},
{"data": {"name": "ts"}, "transform": [{"filter": "datum.city == 'San Juan' && datum.week <= 24"}],
 "mark": {"type": "line", "color": "black", "strokeWidth": 1.4, "point": {"filled": true, "size": 16, "color": "black"}, "clip": true},
 "encoding": {"x": {"field": "week", "type": "quantitative", "scale": {"domain": [-0.7, 52.6], "nice": false, "zero": false}, "axis": {"values": [0,10,20,30,40,50], "title": null}},
  "y": {"field": "cases", "type": "quantitative", "scale": {"domain": [-16, 548], "nice": false, "zero": false}, "axis": {"values": [0,100,200,300,400], "labels": false, "title": null}}}},
{"data": {"name": "fc"}, "transform": [{"filter": "datum.city == 'San Juan' && datum.fw == 24 && datum.model != 'ensemble'"}],
 "mark": {"type": "point", "filled": true, "size": 55, "opacity": 1, "clip": true},
 "encoding": {"x": {"field": "pw", "type": "quantitative", "scale": {"domain": [-0.7, 52.6], "nice": false, "zero": false}, "axis": {"values": [0,10,20,30,40,50], "title": null}},
  "y": {"field": "pv", "type": "quantitative", "scale": {"domain": [-16, 548], "nice": false, "zero": false}, "axis": {"values": [0,100,200,300,400], "labels": false, "title": null}},
  "color": {"field": "model", "type": "nominal"}}},
{"data": {"name": "fc"}, "transform": [{"filter": "datum.city == 'San Juan' && datum.fw == 24 && datum.model == 'ensemble'"}],
 "mark": {"type": "point", "filled": true, "size": 55, "opacity": 1, "clip": true},
 "encoding": {"x": {"field": "pw", "type": "quantitative", "scale": {"domain": [-0.7, 52.6], "nice": false, "zero": false}, "axis": {"values": [0,10,20,30,40,50], "title": null}},
  "y": {"field": "pv", "type": "quantitative", "scale": {"domain": [-16, 548], "nice": false, "zero": false}, "axis": {"values": [0,100,200,300,400], "labels": false, "title": null}},
  "fill": {"field": "model", "type": "nominal"}}}
]
}
]
}
],
"spacing": 16,
"resolve": {"scale": {"color": "shared", "fill": "shared", "stroke": "shared"}, "legend": {"color": "shared", "fill": "shared"}},
"config": {
"font": "DejaVu Sans",
"view": {"stroke": null},
"title": {"fontSize": 18, "fontWeight": "normal", "color": "black", "offset": 0},
"axis": {"grid": false, "domainColor": "#8a8a8a", "tickColor": "#8a8a8a", "tickSize": 5, "offset": 3, "labelFontSize": 18, "labelColor": "black", "labelPadding": 1, "titleFontSize": 18, "titleFontWeight": "normal", "titleColor": "black", "titlePadding": 2},
"axisY": {"labelAngle": -90, "labelAlign": "center", "labelBaseline": "bottom"},
"legend": {"labelColor": "black", "labelFont": "DejaVu Sans"}
}
}
